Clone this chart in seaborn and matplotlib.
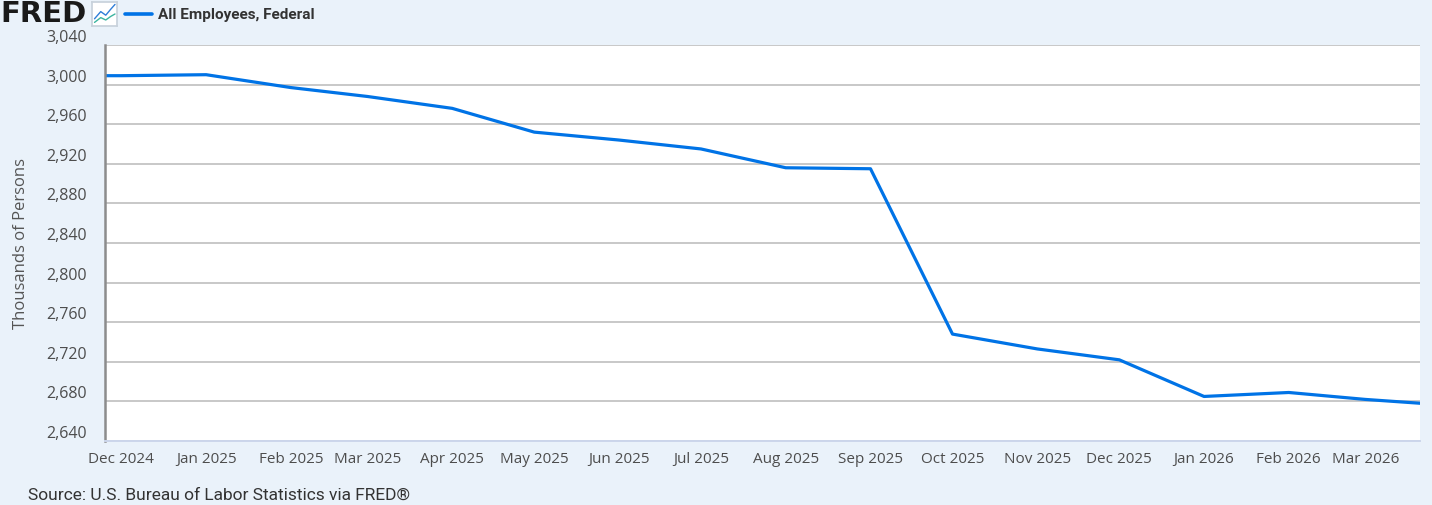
import matplotlib
matplotlib.use('Agg')
import matplotlib.pyplot as plt
import matplotlib.dates as mdates
import matplotlib.ticker as mticker
import pandas as pd
import seaborn as sns

# monthly observations, thousands of persons
months = ['2024-11-01', '2024-12-01', '2025-01-01', '2025-02-01', '2025-03-01',
          '2025-04-01', '2025-05-01', '2025-06-01', '2025-07-01', '2025-08-01',
          '2025-09-01', '2025-10-01', '2025-11-01', '2025-12-01', '2026-01-01',
          '2026-02-01', '2026-03-01', '2026-04-01']
employees = [3009, 3009, 3010, 2997, 2988,
             2976, 2952, 2944, 2935, 2916,
             2915, 2748, 2733, 2722, 2685,
             2689, 2682, 2676]
series_name = 'All Employees, Federal'
y_ticks = [2640, 2680, 2720, 2760, 2800, 2840, 2880, 2920, 2960, 3000, 3040]
x_start = '2024-11-25'
x_end = '2026-03-21'

BG = '#eaf2fa'
LINE = '#0073e6'
TXT = '#4d4d4d'

sns.set_theme(style='white')
plt.rcParams['font.family'] = ['Open Sans', 'DejaVu Sans']

df = pd.DataFrame({'date': pd.to_datetime(months), 'value': employees})

fig = plt.figure(figsize=(14.32, 5.06), dpi=100, facecolor=BG)
ax = fig.add_axes([105 / 1432, 1 - 442 / 506, 1315 / 1432, 396 / 506])
ax.set_facecolor('white')

sns.lineplot(
    data=df,
    x='date',
    y='value',
    ax=ax,
    color=LINE,
    linewidth=2.3,
    legend=False
)

ax.set_xlim(pd.Timestamp(x_start), pd.Timestamp(x_end))
ax.set_ylim(y_ticks[0], y_ticks[-1])
ax.set_yticks(y_ticks)
ax.yaxis.set_major_formatter(mticker.FuncFormatter(lambda v, p: '{:,.0f}'.format(v)))
ax.xaxis.set_major_locator(mdates.MonthLocator())
ax.xaxis.set_major_formatter(mdates.DateFormatter('%b %Y'))

ax.grid(axis='y', color='#c8c8c8', linewidth=1.4)
ax.set_axisbelow(True)
for side in ['top', 'right']:
    ax.spines[side].set_visible(False)
ax.spines['left'].set_color('#8c8c8c')
ax.spines['left'].set_linewidth(1.8)
ax.spines['bottom'].set_color('#ccd6eb')
ax.spines['bottom'].set_linewidth(1.4)

ax.tick_params(axis='y', length=0, labelsize=11.5, labelcolor=TXT, pad=13)
ax.tick_params(axis='x', length=7, width=1, color='#ccd6eb',
               labelsize=11, labelcolor=TXT, pad=0)
for lab in ax.get_yticklabels():
    lab.set_verticalalignment('bottom')

ax.set_xlabel('')
ax.set_ylabel('Thousands of Persons', fontsize=12, color='#555555', labelpad=10)
ax.yaxis.set_label_coords(-0.0576, 0.5)

# header: logo and legend
fig.text(0.0, 1 - 14 / 506, 'FRED', fontsize=21, fontweight='heavy',
         color='#1a1a1a', va='center', ha='left', family=['DejaVu Sans'])
icon = fig.add_axes([92 / 1432, 1 - 27 / 506, 25 / 1432, 24 / 506])
icon.set_facecolor('white')
icon.plot([0.1, 0.35, 0.55, 0.75, 0.92], [0.3, 0.6, 0.45, 0.7, 0.9], color='#2f7ed8', lw=1)
icon.plot([0.1, 0.35, 0.55, 0.75, 0.92], [0.15, 0.35, 0.25, 0.4, 0.5], color='#3cb4a0', lw=1)
icon.set_xlim(0, 1)
icon.set_ylim(0, 1)
icon.set_xticks([])
icon.set_yticks([])
for s in icon.spines.values():
    s.set_color('#c8d2dc')

fig.lines.append(plt.Line2D([125 / 1432, 152 / 1432], [1 - 15 / 506, 1 - 15 / 506],
                            transform=fig.transFigure, color=LINE, linewidth=2.6))
fig.text(158 / 1432, 1 - 15 / 506, series_name, fontsize=11, fontweight='bold',
         color='#333333', va='center', ha='left', family=['Roboto', 'DejaVu Sans'])

fig.text(28 / 1432, 1 - 495 / 506, 'Source: U.S. Bureau of Labor Statistics via FRED\u00ae',
         fontsize=12.5, color='#333333', va='center', ha='left',
         family=['Roboto', 'DejaVu Sans'])

fig.savefig('out.png', dpi=100, facecolor=BG)
plt.close(fig)
